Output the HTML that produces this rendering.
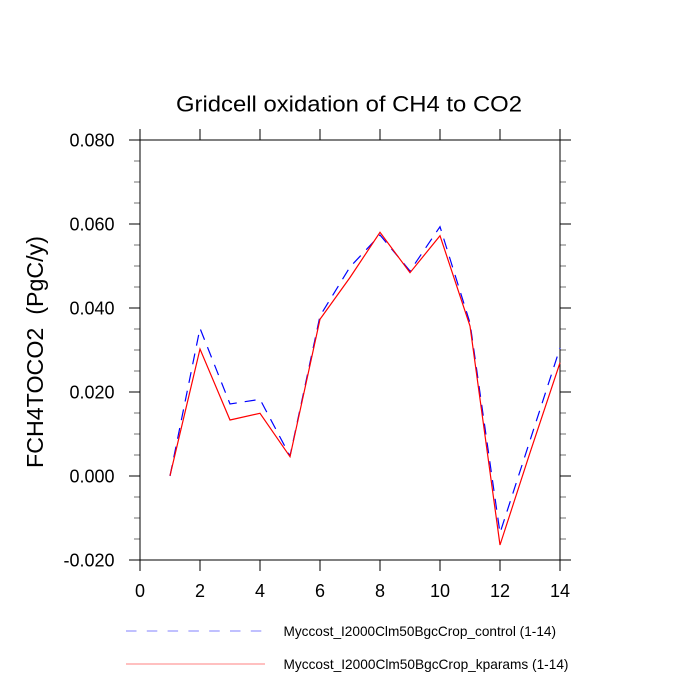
<!DOCTYPE html>
<html>
<head>
<meta charset="utf-8">
<style>
  html, body { margin: 0; padding: 0; background: #fff; }
  svg { display: block; }
  text { font-family: "Liberation Sans", Arial, sans-serif; fill: #000; }
</style>
</head>
<body>
<svg width="700" height="700" viewBox="0 0 700 700" xmlns="http://www.w3.org/2000/svg">
  <rect x="0" y="0" width="700" height="700" fill="#fff"/>

  <!-- Title -->
  <text x="349" y="111.5" font-size="22.5" text-anchor="middle" textLength="346" lengthAdjust="spacingAndGlyphs">Gridcell oxidation of CH4 to CO2</text>

  <!-- Y axis label -->
  <text transform="translate(43,352) rotate(-90)" font-size="23" text-anchor="middle" textLength="232" lengthAdjust="spacingAndGlyphs">FCH4TOCO2&#160; (PgC/y)</text>

  <!-- Minor ticks (y) -->
  <g stroke="#000" stroke-width="1" opacity="0.55">
    <line x1="134" y1="161" x2="140" y2="161"/><line x1="134" y1="182" x2="140" y2="182"/><line x1="134" y1="203" x2="140" y2="203"/>
    <line x1="134" y1="245" x2="140" y2="245"/><line x1="134" y1="266" x2="140" y2="266"/><line x1="134" y1="287" x2="140" y2="287"/>
    <line x1="134" y1="329" x2="140" y2="329"/><line x1="134" y1="350" x2="140" y2="350"/><line x1="134" y1="371" x2="140" y2="371"/>
    <line x1="134" y1="413" x2="140" y2="413"/><line x1="134" y1="434" x2="140" y2="434"/><line x1="134" y1="455" x2="140" y2="455"/>
    <line x1="134" y1="497" x2="140" y2="497"/><line x1="134" y1="518" x2="140" y2="518"/><line x1="134" y1="539" x2="140" y2="539"/>
    <line x1="560" y1="161" x2="566" y2="161"/><line x1="560" y1="182" x2="566" y2="182"/><line x1="560" y1="203" x2="566" y2="203"/>
    <line x1="560" y1="245" x2="566" y2="245"/><line x1="560" y1="266" x2="566" y2="266"/><line x1="560" y1="287" x2="566" y2="287"/>
    <line x1="560" y1="329" x2="566" y2="329"/><line x1="560" y1="350" x2="566" y2="350"/><line x1="560" y1="371" x2="566" y2="371"/>
    <line x1="560" y1="413" x2="566" y2="413"/><line x1="560" y1="434" x2="566" y2="434"/><line x1="560" y1="455" x2="566" y2="455"/>
    <line x1="560" y1="497" x2="566" y2="497"/><line x1="560" y1="518" x2="566" y2="518"/><line x1="560" y1="539" x2="566" y2="539"/>
  </g>

  <!-- Major ticks -->
  <g stroke="#000" stroke-width="1">
    <line x1="129" y1="140" x2="140" y2="140"/><line x1="129" y1="224" x2="140" y2="224"/><line x1="129" y1="308" x2="140" y2="308"/>
    <line x1="129" y1="392" x2="140" y2="392"/><line x1="129" y1="476" x2="140" y2="476"/><line x1="129" y1="560" x2="140" y2="560"/>
    <line x1="560" y1="140" x2="571" y2="140"/><line x1="560" y1="224" x2="571" y2="224"/><line x1="560" y1="308" x2="571" y2="308"/>
    <line x1="560" y1="392" x2="571" y2="392"/><line x1="560" y1="476" x2="571" y2="476"/><line x1="560" y1="560" x2="571" y2="560"/>
    <line x1="140" y1="129" x2="140" y2="140"/><line x1="200" y1="129" x2="200" y2="140"/><line x1="260" y1="129" x2="260" y2="140"/>
    <line x1="320" y1="129" x2="320" y2="140"/><line x1="380" y1="129" x2="380" y2="140"/><line x1="440" y1="129" x2="440" y2="140"/>
    <line x1="500" y1="129" x2="500" y2="140"/><line x1="560" y1="129" x2="560" y2="140"/>
    <line x1="140" y1="560" x2="140" y2="571"/><line x1="200" y1="560" x2="200" y2="571"/><line x1="260" y1="560" x2="260" y2="571"/>
    <line x1="320" y1="560" x2="320" y2="571"/><line x1="380" y1="560" x2="380" y2="571"/><line x1="440" y1="560" x2="440" y2="571"/>
    <line x1="500" y1="560" x2="500" y2="571"/><line x1="560" y1="560" x2="560" y2="571"/>
  </g>

  <!-- Plot frame -->
  <rect x="140" y="140" width="420" height="420" fill="none" stroke="#000" stroke-width="1"/>

  <!-- Y tick labels -->
  <g font-size="18" text-anchor="end">
    <text x="114.5" y="146.5">0.080</text>
    <text x="114.5" y="230.5">0.060</text>
    <text x="114.5" y="314.5">0.040</text>
    <text x="114.5" y="398.5">0.020</text>
    <text x="114.5" y="482.5">0.000</text>
    <text x="114.5" y="566.5">-0.020</text>
  </g>

  <!-- X tick labels -->
  <g font-size="18" text-anchor="middle">
    <text x="140" y="597">0</text>
    <text x="200" y="597">2</text>
    <text x="260" y="597">4</text>
    <text x="320" y="597">6</text>
    <text x="380" y="597">8</text>
    <text x="440" y="597">10</text>
    <text x="500" y="597">12</text>
    <text x="560" y="597">14</text>
  </g>

  <!-- Series: control (blue dashed) -->
  <polyline fill="none" stroke="#0000ff" stroke-width="1.2" stroke-dasharray="11 8"
    points="170,476 200,328.3 230,404 260,399.3 290,456 320,316 350,267 380,235 410,271 440,226.7 470,323 500,533 530,440.5 560,348"/>

  <!-- Series: kparams (red solid) -->
  <polyline fill="none" stroke="#ff0000" stroke-width="1.2"
    points="170,475.7 200,349 230,420 260,413.3 290,456.7 320,319.3 350,277.5 380,232.3 410,272.7 440,235.7 470,326 500,545 530,452.7 560,362.7"/>

  <!-- Legend -->
  <line x1="126" y1="631" x2="262" y2="631" stroke="#8080ff" stroke-width="1" stroke-dasharray="10.5 10.3"/>
  <text x="283.5" y="636" font-size="14" textLength="272.5" lengthAdjust="spacingAndGlyphs">Myccost_I2000Clm50BgcCrop_control (1-14)</text>
  <line x1="126" y1="664" x2="265" y2="664" stroke="#ff8080" stroke-width="1"/>
  <text x="283.5" y="669" font-size="14" textLength="285" lengthAdjust="spacingAndGlyphs">Myccost_I2000Clm50BgcCrop_kparams (1-14)</text>
</svg>
</body>
</html>
